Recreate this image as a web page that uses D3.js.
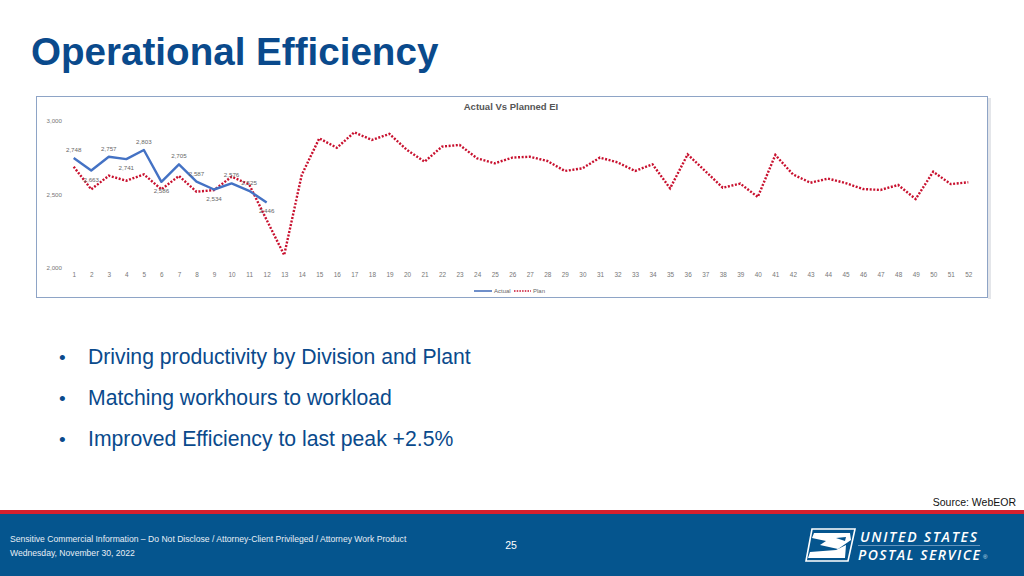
<!DOCTYPE html>
<html><head><meta charset="utf-8">
<script src="https://cdn.jsdelivr.net/npm/d3@7"></script>
<style>
html,body{margin:0;padding:0;background:#fff;}
svg{display:block;font-family:"Liberation Sans",Arial,sans-serif;}
</style></head>
<body>
<svg id="c" width="1024" height="576"></svg>
<script>
// ---- data ----
const weeks = d3.range(1, 53);
const actualWeeks = [1,2,3,4,5,6,7,8,9,10,11,12];
const actualValues = [2748,2663,2757,2741,2803,2586,2705,2587,2534,2576,2525,2446];
const actualLabelSide = ["up","down","up","down","up","down","up","up","down","up","up","down"];
const planValues = [2689,2535,2628,2594,2637,2535,2626,2519,2530,2621,2569,2327,2088,
  2633,2882,2818,2923,2871,2912,2803,2723,2826,2837,2746,2712,2751,2757,2728,2660,2678,
  2751,2719,2660,2705,2542,2773,2660,2546,2574,2483,2769,2637,2580,2608,2578,2537,2531,
  2565,2469,2655,2571,2583];
const yTicks = [2000, 2500, 3000];
const bullets = ["Driving productivity by Division and Plant","Matching workhours to workload","Improved Efficiency to last peak +2.5%"];

const svg = d3.select("#c");

// slide title
svg.append("text").attr("x",31).attr("y",65).attr("font-size",38.6).attr("font-weight","bold")
  .attr("fill","#0A4A8C").text("Operational Efficiency");

// chart frame
svg.append("rect").attr("x",988).attr("y",98).attr("width",3).attr("height",201).attr("fill","#e4e6ea");
svg.append("rect").attr("x",36.5).attr("y",96.5).attr("width",951).attr("height",201)
  .attr("fill","#fff").attr("stroke","#8ea4c6").attr("stroke-width",1);

svg.append("text").attr("x",511).attr("y",110).attr("text-anchor","middle").attr("font-size",9.5)
  .attr("font-weight","bold").attr("fill","#555").text("Actual Vs Planned EI");

const x = d3.scaleLinear().domain([1,52]).range([73.7,968.3]);
const y = d3.scaleLinear().domain([2000,3000]).range([268,121]);

const yAxis = svg.append("g").attr("transform","translate(62,0)")
  .call(d3.axisLeft(y).tickValues(yTicks).tickSize(0).tickPadding(0).tickFormat(d3.format(",")));
yAxis.select(".domain").remove();
yAxis.selectAll("text").attr("font-size",6.2).attr("fill","#777").attr("font-family","Liberation Sans, Arial, sans-serif");

const xAxis = svg.append("g").attr("transform","translate(0,272)")
  .call(d3.axisBottom(x).tickValues(weeks).tickSize(0).tickPadding(0).tickFormat(d3.format("d")));
xAxis.select(".domain").remove();
xAxis.selectAll("text").attr("font-size",6.4).attr("fill","#777").attr("font-family","Liberation Sans, Arial, sans-serif");

const line = d3.line().x(d=>x(d[0])).y(d=>y(d[1]));

svg.append("path").datum(weeks.map((w,i)=>[w,planValues[i]])).attr("d",line)
  .attr("fill","none").attr("stroke","#C8102E").attr("stroke-width",2.4).attr("stroke-dasharray","2,1.6");
svg.append("path").datum(actualWeeks.map((w,i)=>[w,actualValues[i]])).attr("d",line)
  .attr("fill","none").attr("stroke","#4472C4").attr("stroke-width",2.4).attr("stroke-linejoin","round");

svg.append("g").selectAll("text").data(actualWeeks).join("text")
  .attr("x",w=>x(w)).attr("y",(w,i)=>y(actualValues[i]) + (actualLabelSide[i]==="up" ? -6 : 11))
  .attr("text-anchor","middle").attr("font-size",6.2).attr("fill","#666")
  .text((w,i)=>d3.format(",")(actualValues[i]));

// legend
const lg = svg.append("g").attr("font-size",6).attr("fill","#666");
lg.append("line").attr("x1",474).attr("x2",492).attr("y1",291).attr("y2",291).attr("stroke","#6f8fca").attr("stroke-width",2);
lg.append("text").attr("x",494).attr("y",293).text("Actual");
lg.append("line").attr("x1",514).attr("x2",531).attr("y1",291).attr("y2",291).attr("stroke","#C8102E").attr("stroke-width",1.3).attr("stroke-dasharray","1.5,1.2");
lg.append("text").attr("x",533).attr("y",293).text("Plan");

// bullets
bullets.forEach((b,i)=>{
  const yy = 364 + i*41;
  svg.append("text").attr("x",59).attr("y",yy).attr("font-size",19).attr("fill","#0A4A8C").text("•");
  svg.append("text").attr("x",88).attr("y",yy).attr("font-size",21.2).attr("fill","#0A4A8C").text(b);
});

svg.append("text").attr("x",1016).attr("y",506).attr("text-anchor","end").attr("font-size",10.5).attr("fill","#111").text("Source: WebEOR");

// footer
svg.append("rect").attr("x",0).attr("y",510).attr("width",1024).attr("height",4).attr("fill","#D6202E");
svg.append("rect").attr("x",0).attr("y",514).attr("width",1024).attr("height",62).attr("fill","#05558E");
svg.append("text").attr("x",10).attr("y",542).attr("font-size",8.6).attr("fill","#e8eef5")
  .text("Sensitive Commercial Information – Do Not Disclose / Attorney-Client Privileged / Attorney Work Product");
svg.append("text").attr("x",10).attr("y",556).attr("font-size",8.6).attr("fill","#e8eef5").text("Wednesday, November 30, 2022");
svg.append("text").attr("x",511).attr("y",549).attr("text-anchor","middle").attr("font-size",10.5).attr("fill","#fff").text("25");

// logo
const logo = svg.append("g");
logo.append("path").attr("d","M812,529 L855,529 L848,561 L806,561 Z").attr("fill","none").attr("stroke","#fff").attr("stroke-width",1.6);
logo.append("path").attr("d","M814,533 L850,533 L851,540 L838,549 L820,545 L826,541 L812,538 Z").attr("fill","#fff");
logo.append("path").attr("d","M810,552 L836,550 L846,545 L845,558 L808,558 Z").attr("fill","#fff");
logo.append("path").attr("d","M836,538 L846,537 L845,541 Z").attr("fill","#05558E");
logo.append("text").attr("x",860).attr("y",542).attr("font-size",14).attr("font-style","italic")
  .attr("fill","#fff").attr("font-family","Open Sans, sans-serif").attr("font-weight","600").attr("textLength",117).text("UNITED STATES");
logo.append("line").attr("x1",858).attr("x2",980).attr("y1",545.5).attr("y2",545.5).attr("stroke","#8fb0d0").attr("stroke-width",0.7);
logo.append("text").attr("x",858).attr("y",560).attr("font-size",14).attr("font-style","italic")
  .attr("fill","#fff").attr("font-family","Open Sans, sans-serif").attr("font-weight","600").attr("textLength",122).text("POSTAL SERVICE");
logo.append("text").attr("x",983).attr("y",559).attr("font-size",6).attr("fill","#cfe0f0").text("®");
</script>
</body></html>
